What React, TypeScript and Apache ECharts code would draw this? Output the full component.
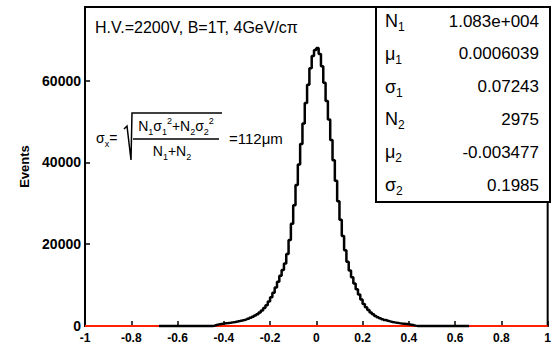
import React, { useEffect, useRef } from "react";
import * as echarts from "echarts";

// ---- data ----
const X_MIN = -1;
const X_MAX = 1;
const X_STEP = 0.2;
const Y_MIN = 0;
const Y_MAX = 78000;
const Y_STEP = 20000;

const BIN_WIDTH = 0.01;
const HIST_FIRST_BIN = -68; // in units of BIN_WIDTH (-0.68)
const HIST_LAST_EDGE = 66; // 0.66
const CORE_FIRST_BIN = -45; // -0.45

// counts for bins from -0.45 to 0.45 (width 0.01), left half then right half
const countsLeft = [
  80, 250, 400, 500, 580, 650, 720, 800, 890, 980,
  1080, 1200, 1330, 1470, 1620, 1800, 2000, 2250, 2550, 2900,
  3300, 3800, 4400, 5100, 6000, 7000, 8100, 9400, 10800, 12300,
  13700, 15300, 17600, 21000, 25000, 29500, 34500, 39500, 44500, 49500,
  54500, 59000, 63000, 66000, 67500,
];
const countsRight = [
  68000, 66500, 63500, 59500, 55000, 50500, 45500, 40500, 35500, 30500,
  26000, 22000, 18500, 15700, 13600, 11900, 10400, 9000, 7700, 6500,
  5400, 4600, 3900, 3300, 2850, 2450, 2150, 1900, 1650, 1450,
  1280, 1130, 1000, 890, 790, 700, 620, 550, 480, 410,
  330, 220, 90, 0, 0,
];
const fitLine = [
  [-1, 0],
  [1, 0],
];

const titleText = "H.V.=2200V, B=1T, 4GeV/cπ";
const yAxisName = "Events";
const statSymbols = ["N", "μ", "σ", "N", "μ", "σ"];
const statIndices = ["1", "1", "1", "2", "2", "2"];
const statValues = ["1.083e+004", "0.0006039", "0.07243", "2975", "-0.003477", "0.1985"];
const resultText = "=112μm";

const FONT = '"Liberation Sans", Arial, Helvetica, sans-serif';

export default function App() {
  const ref = useRef<HTMLDivElement>(null);

  useEffect(() => {
    if (!ref.current) return;
    const chart = echarts.init(ref.current, null, { renderer: "svg" });

    const core = countsLeft.concat(countsRight);
    const hist: number[][] = [];
    for (let i = HIST_FIRST_BIN; i < HIST_LAST_EDGE; i++) {
      const k = i - CORE_FIRST_BIN;
      const v = k >= 0 && k < core.length ? core[k] : 0;
      hist.push([i * BIN_WIDTH, v]);
    }
    hist.push([HIST_LAST_EDGE * BIN_WIDTH, 0]);

    const boxLeft = 376;
    const boxTop = 7;
    const boxRight = 550;
    const boxBottom = 202;
    const rowTop = 21;
    const rowStep = 32.8;

    const statGraphics: any[] = [];
    statSymbols.forEach((s, i) => {
      const y = rowTop + i * rowStep;
      statGraphics.push({
        type: "text",
        x: 385,
        y,
        style: {
          text: `{b|${s}}{s|${statIndices[i]}}`,
          verticalAlign: "middle",
          align: "left",
          fill: "#000",
          rich: {
            b: { fontSize: 18, fontFamily: FONT, lineHeight: 24, fill: "#000" },
            s: {
              fontSize: 12,
              fontFamily: FONT,
              lineHeight: 12,
              verticalAlign: "bottom",
              fill: "#000",
            },
          },
        },
      });
      statGraphics.push({
        type: "text",
        x: 539,
        y,
        style: {
          text: statValues[i],
          fontSize: 17,
          fontFamily: FONT,
          fill: "#000",
          align: "right",
          verticalAlign: "middle",
        },
      });
    });

    const richBase = {
      m: { fontSize: 14, fontFamily: FONT, lineHeight: 20, fill: "#000" },
      s: { fontSize: 9, fontFamily: FONT, lineHeight: 9, verticalAlign: "bottom", fill: "#000" },
      p: { fontSize: 9, fontFamily: FONT, lineHeight: 9, verticalAlign: "top", fill: "#000" },
    };

    const option: any = {
      animation: false,
      backgroundColor: "#fff",
      grid: {
        left: 85,
        right: 4,
        top: 7,
        bottom: 20,
        show: true,
        borderColor: "#000",
        borderWidth: 2,
        containLabel: false,
      },
      xAxis: {
        type: "value",
        min: X_MIN,
        max: X_MAX,
        interval: X_STEP,
        axisLine: { show: true, onZero: false, lineStyle: { color: "#000", width: 2 } },
        axisTick: { show: true, inside: true, length: 5, lineStyle: { color: "#000", width: 1.5 } },
        minorTick: { show: false },
        splitLine: { show: false },
        axisLabel: {
          color: "#000",
          fontSize: 12,
          fontWeight: "bold",
          fontFamily: FONT,
          margin: 6,
          formatter: (v: number) => String(Math.round(v * 10) / 10),
        },
      },
      yAxis: {
        type: "value",
        min: Y_MIN,
        max: Y_MAX,
        interval: Y_STEP,
        name: yAxisName,
        nameLocation: "middle",
        nameGap: 54,
        nameRotate: 90,
        nameTextStyle: { color: "#000", fontSize: 13, fontWeight: "bold", fontFamily: FONT },
        axisLine: { show: true, onZero: false, lineStyle: { color: "#000", width: 2 } },
        axisTick: { show: true, inside: true, length: 5, lineStyle: { color: "#000", width: 1.5 } },
        splitLine: { show: false },
        axisLabel: {
          color: "#000",
          fontSize: 14,
          fontWeight: "bold",
          fontFamily: FONT,
          margin: 4,
          showMaxLabel: false,
          formatter: (v: number) => String(v),
        },
      },
      series: [
        {
          type: "line",
          data: fitLine,
          symbol: "none",
          lineStyle: { color: "#ff2200", width: 2 },
          z: 3,
          clip: false,
        },
        {
          type: "line",
          data: hist,
          step: "end",
          symbol: "none",
          lineStyle: { color: "#000", width: 2.5 },
          z: 4,
          clip: false,
        },
      ],
      graphic: [
        {
          type: "text",
          x: 95,
          y: 27,
          style: {
            text: titleText,
            fontSize: 16,
            fontFamily: FONT,
            fill: "#000",
            verticalAlign: "middle",
          },
          z: 10,
        },
        {
          type: "rect",
          shape: { x: boxLeft, y: boxTop, width: boxRight - boxLeft, height: boxBottom - boxTop },
          style: { fill: "#fff", stroke: "#000", lineWidth: 2 },
          z: 10,
        },
        ...statGraphics.map((g) => ({ ...g, z: 11 })),
        // formula: sigma_x = sqrt((N1 s1^2 + N2 s2^2)/(N1+N2)) = 112um
        {
          type: "text",
          x: 96,
          y: 138,
          style: {
            text: "{m|σ}{s|x}{m|=}",
            verticalAlign: "middle",
            rich: richBase,
          },
          z: 10,
        },
        {
          type: "polyline",
          shape: {
            points: [
              [124, 129],
              [127, 126],
              [131, 160],
              [132, 113],
              [222, 113],
            ],
          },
          style: { stroke: "#000", lineWidth: 1.5, fill: null },
          z: 10,
        },
        {
          type: "text",
          x: 176,
          y: 126,
          style: {
            text: "{m|N}{s|1}{m|σ}{s|1}{p|2}{m|+N}{s|2}{m|σ}{s|2}{p|2}",
            align: "center",
            verticalAlign: "middle",
            rich: richBase,
          },
          z: 10,
        },
        {
          type: "line",
          shape: { x1: 133, y1: 139, x2: 219, y2: 139 },
          style: { stroke: "#000", lineWidth: 1.5 },
          z: 10,
        },
        {
          type: "text",
          x: 172,
          y: 151,
          style: {
            text: "{m|N}{s|1}{m|+N}{s|2}",
            align: "center",
            verticalAlign: "middle",
            rich: richBase,
          },
          z: 10,
        },
        {
          type: "text",
          x: 229,
          y: 138,
          style: {
            text: resultText,
            fontSize: 15,
            fontFamily: FONT,
            fill: "#000",
            verticalAlign: "middle",
          },
          z: 10,
        },
      ],
    };

    chart.setOption(option);
    return () => chart.dispose();
  }, []);

  return (
    <div
      ref={ref}
      style={{ width: 554, height: 346, position: "absolute", left: 0, top: 0, background: "#fff" }}
    />
  );
}
